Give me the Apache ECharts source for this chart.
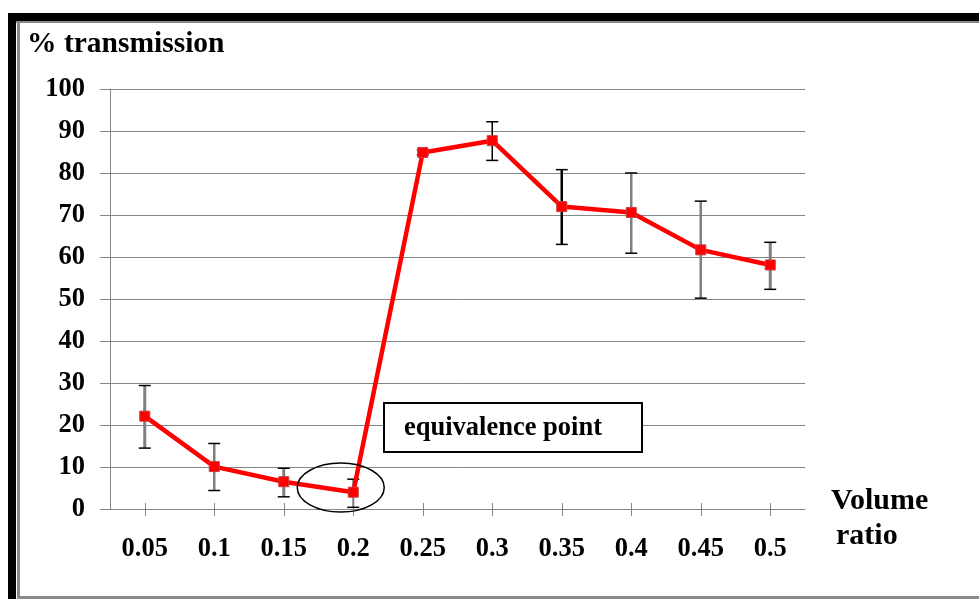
<!DOCTYPE html>
<html>
<head>
<meta charset="utf-8">
<script src="https://cdn.jsdelivr.net/npm/echarts@6/dist/echarts.min.js"></script>
<style>
html,body{margin:0;padding:0;background:#fff;}
#c{width:979px;height:599px;}
</style>
</head>
<body>
<div id="c"></div>
<script>
// ---- data ----
var categories = ['0.05','0.1','0.15','0.2','0.25','0.3','0.35','0.4','0.45','0.5'];
var transmission = [22.1, 10.1, 6.5, 4.0, 84.9, 87.7, 72.0, 70.6, 61.7, 58.1];
var errHigh = [29.4, 15.6, 9.7, 7.1, 85.5, 92.2, 80.8, 80.0, 73.3, 63.5];
var errLow  = [14.5, 4.4, 2.9, 0.4, 84.3, 83.0, 63.0, 60.9, 50.2, 52.3];
var yTicks = [0, 100, 10];
// styles for error bars (stem colour / width)
var errStemColor = ['#7f7f7f','#7f7f7f','#7f7f7f','#7f7f7f','#000','#000','#000','#7f7f7f','#7f7f7f','#7f7f7f'];
var errStemWidth = [3, 2.5, 3, 2, 1.5, 1.5, 2.5, 2.5, 2.5, 3];

var FONT = '"Liberation Serif", "Times New Roman", serif';
var chart = echarts.init(document.getElementById('c'), null, {renderer:'canvas'});

var errData = categories.map(function(c, i){ return [i, errLow[i], errHigh[i]]; });

var option = {
  animation: false,
  backgroundColor: '#fff',
  grid: {left: 110, right: 174, top: 89, bottom: 90, containLabel: false},
  xAxis: [{
    type: 'category',
    data: categories,
    boundaryGap: true,
    axisLine: {show: true, lineStyle: {color: '#868686', width: 1}},
    axisTick: {show: true, alignWithLabel: true, length: 7, lineStyle: {color: '#868686', width: 1}},
    axisLabel: {color: '#000', fontFamily: FONT, fontWeight: 'bold', fontSize: 26.5, margin: 27},
    splitLine: {show: false}
  },{
    type: 'category',
    data: categories,
    position: 'bottom',
    boundaryGap: true,
    axisLine: {show: false},
    axisTick: {show: true, inside: true, alignWithLabel: true, length: 6, lineStyle: {color: '#868686', width: 1}},
    axisLabel: {show: false},
    splitLine: {show: false}
  }],
  yAxis: {
    type: 'value',
    min: yTicks[0], max: yTicks[1], interval: yTicks[2],
    axisLine: {show: true, lineStyle: {color: '#868686', width: 1}},
    axisTick: {show: true, length: 10, lineStyle: {color: '#868686', width: 1}},
    axisLabel: {color: '#000', fontFamily: FONT, fontWeight: 'bold', fontSize: 26.5, margin: 25},
    splitLine: {show: true, lineStyle: {color: '#868686', width: 1}}
  },
  series: [{
    type: 'custom',
    z: 2,
    data: errData,
    renderItem: function(params, api){
      var i = api.value(0);
      var lo = api.coord([i, api.value(1)]);
      var hi = api.coord([i, api.value(2)]);
      var x = lo[0];
      var cw = 6;
      return {
        type: 'group',
        children: [
          {type: 'line', shape: {x1: x, y1: hi[1], x2: x, y2: lo[1]},
           style: {stroke: errStemColor[i], lineWidth: errStemWidth[i]}},
          {type: 'line', shape: {x1: x - cw, y1: hi[1], x2: x + cw, y2: hi[1]},
           style: {stroke: '#000', lineWidth: 1.5}},
          {type: 'line', shape: {x1: x - cw, y1: lo[1], x2: x + cw, y2: lo[1]},
           style: {stroke: '#000', lineWidth: 1.5}}
        ]
      };
    }
  },{
    type: 'line',
    z: 3,
    data: transmission,
    symbol: 'rect',
    symbolSize: 10,
    lineStyle: {color: '#ff0000', width: 4.5},
    itemStyle: {color: '#ff0000', borderColor: '#c83c3c', borderWidth: 1}
  }]
};
chart.setOption(option);

// annotations
var p2 = chart.convertToPixel({gridIndex: 0}, [2, 5.1]);
var p3 = chart.convertToPixel({gridIndex: 0}, [3, 5.1]);
var ex = p2[0] + (p3[0] - p2[0]) * 0.82;
var ey = p2[1];

chart.setOption({
  graphic: [
    // frame
    {type: 'rect', shape: {x: 8, y: 13, width: 980, height: 8}, style: {fill: '#000'}, z: 10},
    {type: 'rect', shape: {x: 16, y: 21, width: 980, height: 2}, style: {fill: '#8a8a8a'}, z: 10},
    {type: 'rect', shape: {x: 8, y: 13, width: 8, height: 600}, style: {fill: '#000'}, z: 10},
    {type: 'rect', shape: {x: 17, y: 21, width: 3, height: 600}, style: {fill: '#8a8a8a'}, z: 10},
    {type: 'rect', shape: {x: 17, y: 596, width: 980, height: 3}, style: {fill: '#8a8a8a'}, z: 10},
    // title
    {type: 'text', left: 27, top: 29, z: 10,
     style: {text: '% transmission', font: 'bold 29.5px ' + FONT, fill: '#000'}},
    // x axis name
    {type: 'text', left: 831, top: 486, z: 10,
     style: {text: 'Volume', font: 'bold 30px ' + FONT, fill: '#000'}},
    {type: 'text', left: 836, top: 521, z: 10,
     style: {text: 'ratio', font: 'bold 30px ' + FONT, fill: '#000'}},
    // equivalence box
    {type: 'rect', z: 10, shape: {x: 384, y: 403, width: 258, height: 49},
     style: {fill: '#fff', stroke: '#000', lineWidth: 2}},
    {type: 'text', left: 404, top: 415, z: 11,
     style: {text: 'equivalence point', font: 'bold 26.5px ' + FONT, fill: '#000'}},
    // ellipse
    {type: 'ellipse', z: 10, shape: {cx: ex, cy: ey, rx: 43.5, ry: 24.5},
     style: {fill: null, stroke: '#000', lineWidth: 1.5}}
  ]
});
</script>
</body>
</html>
